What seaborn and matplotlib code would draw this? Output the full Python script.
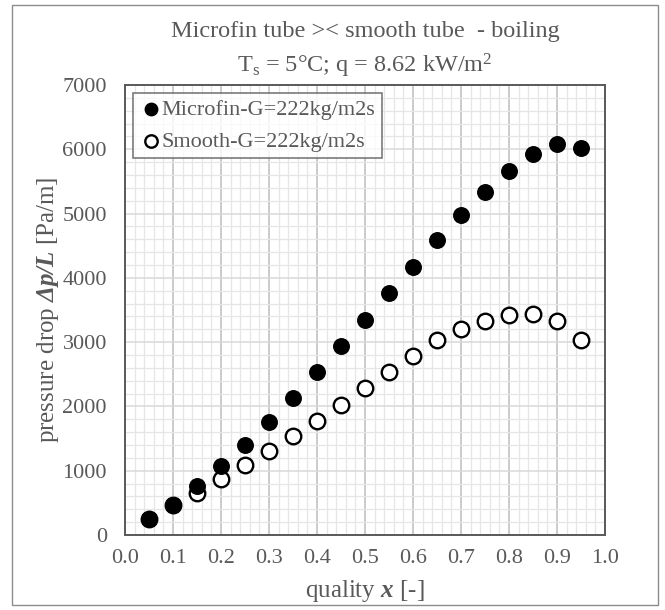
import matplotlib
matplotlib.use("Agg")
import matplotlib.pyplot as plt
import seaborn as sns
import pandas as pd
from matplotlib.ticker import MultipleLocator
from matplotlib.patches import Rectangle

# quality values and measured pressure drop
quality = [0.05, 0.10, 0.15, 0.20, 0.25, 0.30, 0.35, 0.40, 0.45, 0.50,
           0.55, 0.60, 0.65, 0.70, 0.75, 0.80, 0.85, 0.90, 0.95]
microfin = [255, 472, 768, 1070, 1404, 1754, 2135, 2529, 2934, 3345,
            3769, 4175, 4586, 4973, 5336, 5668, 5928, 6080, 6020]
smooth = [250, 465, 647, 865, 1089, 1301, 1543, 1772, 2027, 2281,
          2529, 2783, 3031, 3206, 3327, 3418, 3436, 3327, 3031]
labels = ["Microfin-G=222kg/m2s", "Smooth-G=222kg/m2s"]

df = pd.DataFrame({
    "x": quality * 2,
    "dp": microfin + smooth,
    "series": [labels[0]] * len(quality) + [labels[1]] * len(quality),
})

sns.set_style("white")
plt.rcParams["font.family"] = ["Liberation Serif", "DejaVu Serif"]
plt.rcParams["mathtext.fontset"] = "custom"
plt.rcParams["mathtext.rm"] = "Liberation Serif"
plt.rcParams["mathtext.it"] = "Liberation Serif:italic"
plt.rcParams["mathtext.bf"] = "Liberation Serif:bold"
plt.rcParams["mathtext.bfit"] = "Liberation Serif:bold:italic"

txt = "#595959"
fig = plt.figure(figsize=(6.65, 6.10), dpi=100)
ax = fig.add_axes([125 / 665, 1 - 535 / 610, (605 - 125) / 665, (535 - 85) / 610])

# outer frame of the chart
fig.patches.append(Rectangle((12 / 665, 5 / 610), 646 / 665, 600 / 610,
                             transform=fig.transFigure, fill=False,
                             edgecolor="#8c8c8c", linewidth=1.0))

# Microfin: filled, Smooth: open
sns.scatterplot(data=df[df.series == labels[1]], x="x", y="dp", ax=ax,
                marker="o", s=125, facecolor="white", edgecolor="black",
                linewidth=1.7, label=labels[1], zorder=3)
sns.scatterplot(data=df[df.series == labels[0]], x="x", y="dp", ax=ax,
                marker="o", s=125, color="black", edgecolor="black",
                linewidth=1.0, label=labels[0], zorder=4)

ax.set_xlim(0, 1.0)
ax.set_ylim(0, 7000)
ax.xaxis.set_major_locator(MultipleLocator(0.1))
ax.xaxis.set_minor_locator(MultipleLocator(0.02))
ax.yaxis.set_major_locator(MultipleLocator(1000))
ax.yaxis.set_minor_locator(MultipleLocator(200))
ax.set_xticklabels([f"{v:.1f}" for v in ax.get_xticks()])

ax.grid(which="minor", color="#e6e6e6", linewidth=0.9)
ax.grid(which="major", axis="y", color="#d9d9d9", linewidth=1.1)
ax.grid(which="major", axis="x", color="#bdbdbd", linewidth=1.1)
ax.set_axisbelow(True)

for sp in ax.spines.values():
    sp.set_color("#595959")
    sp.set_linewidth(1.4)

ax.tick_params(axis="both", which="major", direction="out", length=6,
               width=1.0, color="#595959", labelcolor=txt, labelsize=16)
ax.tick_params(axis="x", pad=4)
ax.tick_params(axis="y", pad=7)
ax.tick_params(which="minor", length=0)

ax.set_xlabel(r"quality $\mathbfit{x}$ [-]", fontsize=18, color=txt, labelpad=7)
ax.set_ylabel(r"pressure drop $\mathbfit{\Delta p/L}$ [Pa/m]", fontsize=18,
              color=txt, labelpad=1)
ax.set_title("Microfin tube >< smooth tube  - boiling\n"
             r"T$_\mathrm{s}$ = 5°C; q = 8.62 kW/m$^2$",
             fontsize=17.5, color=txt, pad=9, linespacing=1.45)

handles, lbls = ax.get_legend_handles_labels()
leg = ax.legend(handles[::-1], lbls[::-1], loc="upper left", fontsize=16,
                frameon=True, fancybox=False, edgecolor="#595959",
                handletextpad=0.0, borderpad=0.3, labelspacing=0.5,
                borderaxespad=0.35, handlelength=1.0, markerscale=0.8)
leg.get_frame().set_linewidth(1.2)
for t in leg.get_texts():
    t.set_color(txt)

fig.savefig("out.png", dpi=100)
